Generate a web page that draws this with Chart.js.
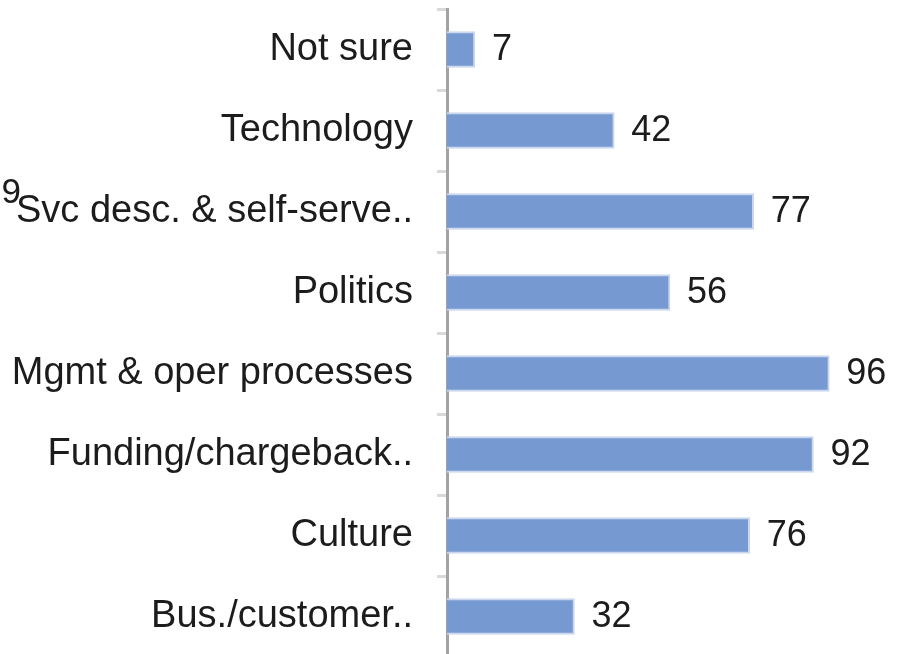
<!DOCTYPE html>
<html>
<head>
<meta charset="utf-8">
<script src="https://cdn.jsdelivr.net/npm/chart.js@4/dist/chart.umd.min.js"></script>
<style>
  html, body { margin: 0; padding: 0; background: #fff; overflow: hidden; }
  #wrap { width: 901px; height: 660px; position: relative; }
</style>
</head>
<body>
<div id="wrap"><canvas id="mycanvas"></canvas></div>
<script>
// categories, top to bottom
var categories = ['Not sure', 'Technology', 'Svc desc. & self-serve..', 'Politics',
  'Mgmt & oper processes', 'Funding/chargeback..', 'Culture', 'Bus./customer..'];
var counts = [7, 42, 77, 56, 96, 92, 76, 32];

// stray cut-off label from the neighbouring chart at the left edge
var strayLabel = '9';

var FONT = '"Liberation Sans", Arial, Helvetica, sans-serif';

var valueLabels = {
  id: 'valueLabels',
  afterDatasetsDraw: function(chart) {
    var ctx = chart.ctx;
    var meta = chart.getDatasetMeta(0);
    ctx.save();
    ctx.font = '36px ' + FONT;
    ctx.fillStyle = '#1c1c1c';
    ctx.textAlign = 'left';
    ctx.textBaseline = 'middle';
    meta.data.forEach(function(bar, i) {
      ctx.fillText(counts[i], bar.x + 17, bar.y + 1);
    });
    ctx.font = '35px ' + FONT;
    ctx.textAlign = 'right';
    ctx.fillText(strayLabel, 21, 193);
    ctx.restore();
  }
};

var chartdata = {
  labels: categories,
  datasets: [{
    label: 'Responses',
    data: counts,
    backgroundColor: '#7599d0',
    borderColor: '#c9d6ee',
    borderWidth: 2,
    borderSkipped: 'start',
    barThickness: 36
  }]
};

var ctx = document.getElementById('mycanvas');
var barGraph = new Chart(ctx, {
  type: 'bar',
  data: chartdata,
  options: {
    indexAxis: 'y',
    responsive: true,
    maintainAspectRatio: false,
    animation: false,
    layout: { padding: { top: 9, bottom: 3, left: 0, right: 0 } },
    plugins: {
      legend: { display: false },
      tooltip: { enabled: false }
    },
    scales: {
      x: {
        display: false,
        min: 0,
        max: 114
      },
      y: {
        afterFit: function(scale) {
          scale.width = 447;
          scale.paddingTop = 0;
          scale.paddingBottom = 0;
        },
        grid: {
          offset: true,
          drawOnChartArea: false,
          drawTicks: true,
          tickLength: 10,
          tickWidth: 3,
          tickColor: '#d9d9d9'
        },
        border: { display: true, color: '#a3a3a3', width: 3 },
        ticks: {
          padding: 24,
          color: '#1c1c1c',
          font: { family: FONT, size: 38 }
        }
      }
    }
  },
  plugins: [valueLabels]
});
</script>
</body>
</html>
